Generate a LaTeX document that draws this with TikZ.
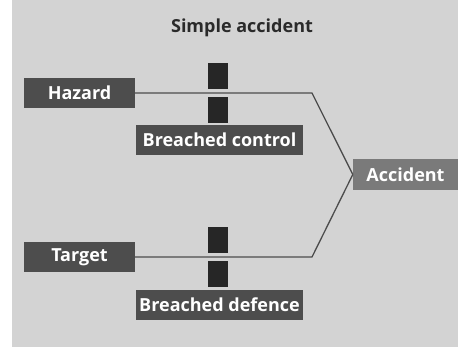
\documentclass[tikz,border=0pt]{standalone}
\usepackage{fontspec}
\setmainfont{Open Sans}
\usetikzlibrary{positioning}
\definecolor{bggray}{HTML}{D3D3D3}
\definecolor{boxgray}{HTML}{4D4D4D}
\definecolor{outgray}{HTML}{7A7A7A}
\definecolor{bargray}{HTML}{262626}
\definecolor{titlegray}{HTML}{2A2A2A}
\tikzset{
  box/.style={fill=boxgray,text=white,font=\bfseries\fontsize{18}{20}\selectfont,minimum height=30pt,inner sep=0pt},
  barrier/.style={fill=bargray,minimum width=20pt,minimum height=26pt,inner sep=0pt},
  link/.style={draw=black!70,line width=1.3pt}
}

\begin{document}
\begin{tikzpicture}[x=1pt,y=-1pt]
  \useasboundingbox (0,0) rectangle (458,349);
  \fill[white] (0,0) rectangle (458,349);
  \fill[bggray] (12,0) rectangle (458,347);
  \node[text=titlegray,font=\bfseries\fontsize{18}{20}\selectfont] (title) at (242,28) {Simple accident};

  \node[box,minimum width=111pt] (haz) at (79.5,93) {Hazard};
  \node[box,minimum width=111pt] (tgt) at (79.5,257) {Target};
  \node[box,minimum width=167pt] (ctl) at (219.5,139.5) {Breached control};
  \node[box,minimum width=167pt] (def) at (219.5,304.5) {Breached defence};
  \node[box,fill=outgray,minimum width=105pt,minimum height=31pt] (acc) at (405.5,174.5) {Accident};

  % barriers either side of each path
  \node[barrier] (ctltop) at (218,75.5) {};
  \node[barrier] (ctlbot) at (218,110) {};
  \node[barrier] (deftop) at (218,239.5) {};
  \node[barrier] (defbot) at (218,273.5) {};

  \coordinate (hk) at (312,93);
  \coordinate (tk) at (312,257);
  \draw[link] (haz.east) -- (hk) -- (acc.west);
  \draw[link] (tgt.east) -- (tk) -- (acc.west);
\end{tikzpicture}
\end{document}
